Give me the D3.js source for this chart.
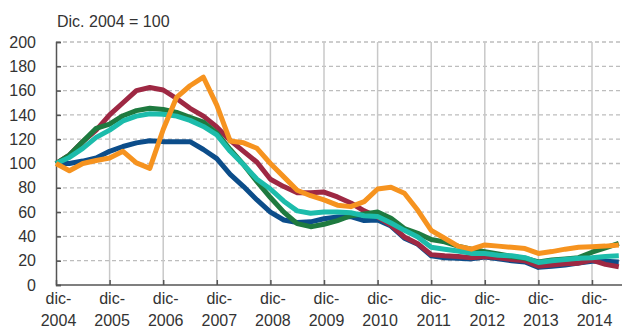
<!DOCTYPE html>
<html><head><meta charset="utf-8">
<script src="https://cdn.jsdelivr.net/npm/d3@7"></script>
<style>body{margin:0;background:#fff}svg{display:block}</style>
</head><body><svg id="c" width="622" height="334"></svg>
<script>
const quarters = ["2004-12","2005-03","2005-06","2005-09","2005-12","2006-03","2006-06","2006-09","2006-12","2007-03","2007-06","2007-09","2007-12","2008-03","2008-06","2008-09","2008-12","2009-03","2009-06","2009-09","2009-12","2010-03","2010-06","2010-09","2010-12","2011-03","2011-06","2011-09","2011-12","2012-03","2012-06","2012-09","2012-12","2013-03","2013-06","2013-09","2013-12","2014-03","2014-06","2014-09","2014-12","2015-03","2015-06"];
const xTickLabels = ["2004","2005","2006","2007","2008","2009","2010","2011","2012","2013","2014"];
const yTicks = [0,20,40,60,80,100,120,140,160,180,200];
const blue = [100,100,102,104.5,110,114,117,118.8,118,118,118,111.5,104,91,81,70,60,53.5,51.5,52,54.5,56,56.3,53,53.5,48.5,38.5,33.5,24,22.5,22,21.5,23,21.5,20,19,14.5,15.5,16.5,18,19.5,19.5,19];
const red = [100,107,118,127.5,140,150,160,162.5,160.5,153.5,145.4,139,130,119,110,101,87,81,76,76,76.5,72.5,67.5,61,56,49,39.5,34,25,24,23.5,22.5,23.5,22.5,21,20,15.5,16.5,17.5,18,20.5,17,15];
const green = [100,107,118,129,132.5,139.3,143.5,145.5,144.5,142,138,134,125,111.5,99,85,72,60,50.5,48,50,53,57,58.5,60,55,46.5,42.5,37.5,35.5,32,29.5,27.5,25.5,23.5,22,19,20.5,21.5,22.5,27,30.5,34.3];
const teal = [100,105,112.5,121.5,127.5,135,139,141,140.5,139,135.5,130.5,123.5,110,99,87,79,69,61,59,60,60,59.5,57,56.3,51,45,39.5,31,29.5,28,26,26,24.5,24,22.5,18.5,20,21,22,22.5,23.5,24.1];
const orange = [100,94,100,102.5,104.5,110,100.5,96,128,154.5,164,171,148,118.5,117,112.5,100,89,78,73.5,70,65.7,64.5,68.6,79,80.5,75.5,61.5,45,38.5,32,29.5,33,32,31,30,26,27.5,29.5,31,31.5,32,33];

const series = [
  {v: blue, c: "#0c4d8a"},
  {v: red, c: "#9e2843"},
  {v: green, c: "#1e7a3f"},
  {v: teal, c: "#1cbcab"},
  {v: orange, c: "#f6931f"}
];

const svg = d3.select("#c");
const x = d3.scaleLinear().domain([0, 40]).range([56, 592]);
const y = d3.scaleLinear().domain([0, 200]).range([285, 42]);
const xRight = 622;

// horizontal dashed grid
svg.append("g").selectAll("line").data(yTicks.filter(d => d > 0)).join("line")
  .attr("x1", x(0)).attr("x2", xRight).attr("y1", d => y(d)).attr("y2", d => y(d))
  .attr("stroke", "#bdbdbd").attr("stroke-width", 1.3).attr("stroke-dasharray", "4,3");
// vertical grid
svg.append("g").selectAll("line").data(xTickLabels.slice(1)).join("line")
  .attr("x1", (d, i) => x((i + 1) * 4)).attr("x2", (d, i) => x((i + 1) * 4))
  .attr("y1", y(200)).attr("y2", y(0))
  .attr("stroke", "#c8c8c8").attr("stroke-width", 1.5);

// axes
const yAxis = d3.axisLeft(y).tickValues(yTicks).tickSize(-5).tickPadding(20).tickFormat(d3.format("d"));
const gy = svg.append("g").attr("transform", `translate(${x(0)},0)`).call(yAxis);
gy.select(".domain").attr("stroke", "#555").attr("stroke-width", 1.5);
gy.selectAll(".tick line").attr("stroke", "#555").attr("stroke-width", 1.5);
gy.selectAll("text").attr("font-family", "Liberation Sans, Arial, sans-serif").attr("font-size", 16).attr("fill", "#333");

const xAxis = d3.axisBottom(x).tickValues(xTickLabels.map((d, i) => i * 4)).tickSize(-5).tickFormat("");
const gx = svg.append("g").attr("transform", `translate(0,${y(0)})`).call(xAxis);
gx.select(".domain").remove();
gx.append("line").attr("x1", x(0)).attr("x2", xRight).attr("stroke", "#555").attr("stroke-width", 1.5);
gx.selectAll(".tick line").attr("stroke", "#555").attr("stroke-width", 1.5);
gx.selectAll(".tick").each(function(d, i) {
  const t = d3.select(this).append("text").attr("text-anchor", "middle")
    .attr("font-family", "Liberation Sans, Arial, sans-serif").attr("font-size", 16).attr("fill", "#333");
  t.append("tspan").attr("x", 2).attr("y", 19).text("dic-");
  t.append("tspan").attr("x", 2).attr("y", 41).text(xTickLabels[i]);
});

// lines
const line = d3.line().x((d, i) => x(i)).y(d => y(d));
svg.append("g").selectAll("path").data(series).join("path")
  .attr("d", s => line(s.v)).attr("fill", "none")
  .attr("stroke", s => s.c).attr("stroke-width", 5).attr("stroke-linejoin", "round");

svg.append("text").attr("x", 57).attr("y", 27)
  .attr("font-family", "Liberation Sans, Arial, sans-serif").attr("font-size", 16).attr("fill", "#333")
  .text("Dic. 2004 = 100");
</script></body></html>
